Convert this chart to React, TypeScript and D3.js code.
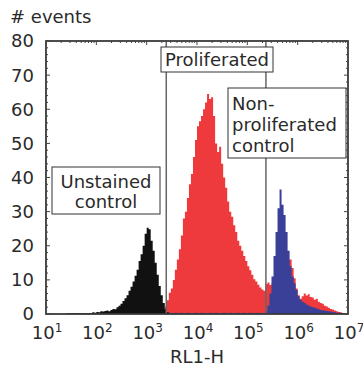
import React from "react";
import * as d3 from "d3";

// ---- data ----
const binWidth = 0.04; // decades per channel
const blackStart = 1.4;
const blackCounts = [
  0.2, 0.3, 0.2, 0.3, 0.2, 0.3, 0.3, 0.2, 0.3, 0.3,
  0.2, 0.3, 0.3, 0.5, 0.4, 0.6, 0.5, 0.8, 0.7, 0.9,
  1.0, 0.8, 1.2, 1.5, 1.4, 2.0, 2.4, 3.0, 3.8, 4.6,
  5.5, 6.8, 8.0, 9.5, 11.2, 13.0, 15.5, 17.5, 20.0, 23.5,
  25.3, 24.8, 21.5, 18.5, 15.0, 11.5, 8.2, 5.5, 3.2, 1.5,
  0.5,
];
const redStart = 3.32;
const redCounts = [
  0.8, 2.2, 4.0, 6.2, 7.5, 10, 13, 16, 19, 23,
  28, 30, 34, 38, 41, 46, 51, 55, 56.5, 58,
  60, 62, 64.5, 63, 63.5, 58, 50, 47.5, 49, 44,
  40, 37, 33, 30, 28.5, 26, 24, 21.5, 20, 18.5,
  17, 15.5, 14, 12.8, 11.5, 10.2, 9.5, 8.6, 7.8, 7.2,
  6.8, 8.8, 9.2, 8.5, 9, 10, 11, 12.5, 13.5, 14.5,
  15.5, 16, 16, 16, 13.5, 10.5, 7.5, 5.5, 4.5, 5.2,
  6, 5.4, 5.8, 5, 4.8, 4.2, 4.5, 3.6, 3.2, 3.0,
  2.4, 2.2, 1.8, 1.5, 1.3, 1.0, 0.8, 0.6, 0.5, 0.3,
  0.2,
];
const blueStart = 3.4;
const blueCounts = [
  0.3, 0.4, 0.3, 0.3, 0.4, 0.3, 0.3, 0.4, 0.3, 0.3,
  0.4, 0.3, 0.3, 0.3, 0.4, 0.3, 0.3, 0.4, 0.3, 0.3,
  0.3, 0.4, 0.3, 0.3, 0.4, 0.3, 0.3, 0.3, 0.4, 0.3,
  0.3, 0.4, 0.3, 0.3, 0.3, 0.4, 0.3, 0.3, 0.4, 0.3,
  0.3, 0.4, 0.3, 0.3, 0.3, 0.4, 0.3, 0.3, 0.3, 0.8,
  2.5, 6, 11, 17, 24, 31, 36.5, 32, 29, 24,
  18.5, 14, 11, 9, 7, 5.2, 4.2, 3.6, 3.2, 2.8,
  2.5, 2.2, 2.0, 1.8, 1.6, 1.4, 1.2, 1.1, 1.0, 0.9,
  0.8, 0.7, 0.6, 0.5, 0.4, 0.35, 0.3, 0.2, 0.1,
];
const gates = [2450, 234000];
const yTicks = [0, 10, 20, 30, 40, 50, 60, 70, 80];
const xExponents = [1, 2, 3, 4, 5, 6, 7];
const labels = {
  unstained: ["Unstained", "control"],
  proliferated: ["Proliferated"],
  nonProliferated: ["Non-", "proliferated", "control"],
};

const W = 363;
const H = 367;
const M = { left: 46, right: 348, top: 41, bottom: 314 };
const FONT = "'DejaVu Sans', sans-serif";
const TEXT = "#2a2a2a";

export default function App() {
  const x = d3.scaleLog().domain([10, 1e7]).range([M.left, M.right]);
  const y = d3.scaleLinear().domain([0, 80]).range([M.bottom, M.top]);

  const histPath = (start: number, counts: number[]) => {
    const pts: [number, number][] = counts.map((c, i) => [Math.pow(10, start + i * binWidth), c]);
    pts.push([Math.pow(10, start + counts.length * binWidth), 0]);
    const area = d3
      .area<[number, number]>()
      .x((d) => x(d[0]))
      .y0(y(0))
      .y1((d) => y(d[1]))
      .curve(d3.curveStepAfter);
    return area(pts) || "";
  };

  const minorY = d3.range(0, 81, 2);
  const minorX: number[] = [];
  for (let e = 1; e < 7; e++) for (let k = 1; k < 10; k++) minorX.push(k * Math.pow(10, e));
  minorX.push(1e7);

  const box = (x0: number, y0: number, x1: number, y1: number) => (
    <rect x={x0} y={y0} width={x1 - x0} height={y1 - y0} fill="#fff" stroke="#333" strokeWidth={1} />
  );

  return (
    <svg width={W} height={H} style={{ position: "absolute", left: 0, top: 0 }}>
      <rect x={0} y={0} width={W} height={H} fill="#fff" />
      {/* histograms */}
      <path d={histPath(redStart, redCounts)} fill="#ee3a3d" />
      <path d={histPath(blueStart, blueCounts)} fill="#3a3f98" />
      <path d={histPath(blackStart, blackCounts)} fill="#111" />
      {/* gate lines */}
      {gates.map((g, i) => (
        <line key={i} x1={x(g)} x2={x(g)} y1={M.top} y2={M.bottom} stroke="#666" strokeWidth={1.5} />
      ))}
      {/* frame */}
      <rect x={M.left} y={M.top} width={M.right - M.left} height={M.bottom - M.top} fill="none" stroke="#3a3a3a" strokeWidth={1.8} />
      {/* inner ticks */}
      {minorY.map((v) => (
        <g key={"my" + v}>
          <line x1={M.left} x2={M.left + (v % 10 === 0 ? 4 : 2)} y1={y(v)} y2={y(v)} stroke="#444" strokeWidth={1} />
          <line x1={M.right} x2={M.right - (v % 10 === 0 ? 4 : 2)} y1={y(v)} y2={y(v)} stroke="#444" strokeWidth={1} />
        </g>
      ))}
      {minorX.map((v, i) => (
        <line key={"mx" + i} x1={x(v)} x2={x(v)} y1={M.top} y2={M.top + (Math.abs(Math.log10(v) % 1) < 1e-9 ? 4 : 2)} stroke="#444" strokeWidth={1} />
      ))}
      {/* y tick labels */}
      {yTicks.map((t) => (
        <text key={t} x={34} y={y(t)} dy="0.36em" textAnchor="end" fontFamily={FONT} fontSize={18} fill={TEXT}>
          {t}
        </text>
      ))}
      {/* x tick labels */}
      {xExponents.map((e) => (
        <text key={e} x={x(Math.pow(10, e)) + 1} y={339} textAnchor="middle" fontFamily={FONT} fontSize={18} fill={TEXT}>
          10
          <tspan dy={-7} fontSize={12}>{e}</tspan>
        </text>
      ))}
      <text x={(M.left + M.right) / 2} y={363} textAnchor="middle" fontFamily={FONT} fontSize={18} fill={TEXT}>
        RL1-H
      </text>
      <text x={10} y={23} fontFamily={FONT} fontSize={18} fill={TEXT}>
        # events
      </text>
      {/* annotation boxes */}
      {box(52, 167, 160, 214)}
      {labels.unstained.map((s, i) => (
        <text key={s} x={106} y={188 + i * 20} textAnchor="middle" fontFamily={FONT} fontSize={18} fill={TEXT}>
          {s}
        </text>
      ))}
      {box(161, 47, 273, 72)}
      {labels.proliferated.map((s) => (
        <text key={s} x={217} y={66} textAnchor="middle" fontFamily={FONT} fontSize={18} fill={TEXT}>
          {s}
        </text>
      ))}
      {box(228, 88, 346, 158)}
      {labels.nonProliferated.map((s, i) => (
        <text key={s} x={232} y={110 + i * 21} fontFamily={FONT} fontSize={18} fill={TEXT}>
          {s}
        </text>
      ))}
    </svg>
  );
}
